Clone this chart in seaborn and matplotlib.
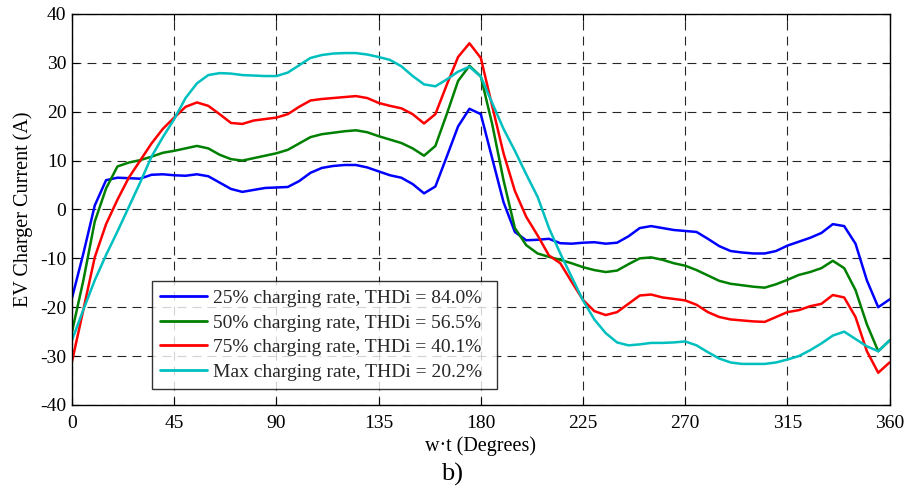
import numpy as np
import pandas as pd
import matplotlib
matplotlib.use("Agg")
import matplotlib.pyplot as plt
import seaborn as sns

# Phase angle (degrees), sampled every 5 degrees over one cycle
angle = list(range(0, 361, 5))

# EV charger current (A) for each charging level
rate_25 = [-18.1, -9.0, 0.8, 6.0, 6.5, 6.4, 6.3, 7.1, 7.2, 7.0,
           6.9, 7.2, 6.8, 5.5, 4.2, 3.6, 4.0, 4.4, 4.5, 4.6,
           5.8, 7.5, 8.5, 8.9, 9.1, 9.1, 8.6, 7.8, 7.0, 6.5,
           5.2, 3.3, 4.7, 10.8, 17.0, 20.6, 19.5, 10.5, 1.5, -4.6,
           -6.3, -6.2, -6.0, -6.9, -7.0, -6.8, -6.7, -7.0, -6.8, -5.5,
           -3.8, -3.4, -3.8, -4.2, -4.4, -4.6, -6.0, -7.5, -8.5, -8.8,
           -9.0, -9.0, -8.5, -7.4, -6.6, -5.8, -4.8, -3.0, -3.4, -7.0,
           -14.5, -20.0, -18.4]
rate_50 = [-25.0, -14.5, -2.5, 4.3, 8.8, 9.6, 10.1, 10.8, 11.6, 12.0,
           12.5, 13.0, 12.5, 11.2, 10.3, 10.0, 10.5, 11.0, 11.5, 12.2,
           13.5, 14.8, 15.4, 15.7, 16.0, 16.2, 15.8, 15.0, 14.3, 13.6,
           12.5, 11.0, 13.0, 19.5, 26.3, 29.4, 27.2, 17.5, 6.0, -3.8,
           -7.3, -9.0, -9.7, -10.3, -11.0, -11.8, -12.4, -12.8, -12.5, -11.2,
           -10.0, -9.8, -10.3, -11.0, -11.5, -12.4, -13.5, -14.6, -15.2, -15.5,
           -15.8, -16.0, -15.3, -14.4, -13.4, -12.8, -12.0, -10.5, -12.0, -16.5,
           -23.5, -29.0, -26.8]
rate_75 = [-31.1, -20.5, -9.8, -3.0, 2.0, 6.5, 10.0, 13.5, 16.5, 18.8,
           21.0, 21.9, 21.2, 19.5, 17.7, 17.5, 18.2, 18.5, 18.8, 19.5,
           21.0, 22.3, 22.6, 22.8, 23.0, 23.2, 22.8, 21.8, 21.2, 20.7,
           19.5, 17.6, 19.5, 25.5, 31.2, 34.0, 31.0, 21.2, 11.5, 3.8,
           -1.5, -5.3, -9.4, -11.0, -14.8, -18.5, -20.8, -21.6, -21.0, -19.3,
           -17.6, -17.4, -18.0, -18.3, -18.6, -19.5, -21.0, -22.0, -22.5, -22.7,
           -22.9, -23.0, -22.0, -21.0, -20.6, -19.8, -19.3, -17.5, -18.0, -22.0,
           -29.0, -33.4, -31.3]
rate_max = [-26.7, -20.5, -14.5, -9.3, -4.5, 0.5, 5.5, 10.8, 14.8, 18.5,
            22.8, 25.8, 27.5, 27.9, 27.8, 27.5, 27.4, 27.3, 27.3, 28.0,
            29.5, 31.0, 31.6, 31.9, 32.0, 32.0, 31.7, 31.2, 30.6, 29.3,
            27.3, 25.6, 25.2, 26.6, 28.2, 29.2, 27.2, 21.8, 16.5, 12.0,
            7.2, 2.6, -3.8, -9.0, -13.8, -18.6, -22.5, -25.3, -27.2, -27.8,
            -27.6, -27.3, -27.3, -27.2, -27.0, -27.8, -29.2, -30.5, -31.3, -31.6,
            -31.6, -31.6, -31.3, -30.7, -30.0, -28.8, -27.4, -25.8, -25.0, -26.5,
            -28.0, -29.0, -26.8]

labels = ["25% charging rate, THDi = 84.0%",
          "50% charging rate, THDi = 56.5%",
          "75% charging rate, THDi = 40.1%",
          "Max charging rate, THDi = 20.2%"]
colors = ["#0000ff", "#008000", "#ff0000", "#00bfbf"]

x_ticks = [0, 45, 90, 135, 180, 225, 270, 315, 360]
y_ticks = [-40, -30, -20, -10, 0, 10, 20, 30, 40]

frames = []
for lab, vals in zip(labels, [rate_25, rate_50, rate_75, rate_max]):
    frames.append(pd.DataFrame({"angle": angle, "current": vals, "series": lab}))
df = pd.concat(frames, ignore_index=True)

sns.set_theme(style="white")
plt.rcParams["font.family"] = ["Liberation Serif", "DejaVu Serif"]

fig = plt.figure(figsize=(9.07, 4.9), dpi=100)
ax = fig.add_axes([0.0794, 0.1735, 0.9014, 0.798])

sns.lineplot(data=df, x="angle", y="current", hue="series", hue_order=labels,
             palette=colors, estimator=None, sort=False, linewidth=1.8,
             ax=ax, legend=False)

ax.set_xlim(0, 360)
ax.set_ylim(-40, 40)
ax.set_xticks(x_ticks)
ax.set_yticks(y_ticks)
ax.set_xticklabels([str(t) for t in x_ticks])
ax.set_yticklabels([str(t) for t in y_ticks])
ax.tick_params(axis="both", which="both", direction="in", length=5, width=0.8,
               colors="black", labelsize=14, top=True, right=True,
               bottom=True, left=True, pad=4)
ax.tick_params(axis="x", pad=7)
ax.grid(True, color="black", linestyle=(0, (8, 5.5)), linewidth=0.8, alpha=0.85)
for sp in ax.spines.values():
    sp.set_color("black")
    sp.set_linewidth(1.0)

ax.set_xlabel("w·t (Degrees)", fontsize=14.5, color="black", labelpad=3)
ax.set_ylabel("EV Charger Current (A)", fontsize=14.5, color="black", labelpad=5)

leg = ax.legend(ax.lines[:4], labels, loc="lower left",
                bbox_to_anchor=(0.098, 0.041, 0.422, 0.274), mode="expand",
                borderaxespad=0, fontsize=14, handlelength=2.4,
                handletextpad=0.3, labelspacing=0.36, borderpad=0.42,
                frameon=True, fancybox=False)
leg.get_frame().set_edgecolor("black")
leg.get_frame().set_linewidth(1.0)
for h in leg.get_lines():
    h.set_linewidth(2.0)

fig.text(0.498, 1 - 474 / 490, "b)", ha="center", va="center",
         fontsize=19, color="black")

fig.savefig("out.png", dpi=100)
